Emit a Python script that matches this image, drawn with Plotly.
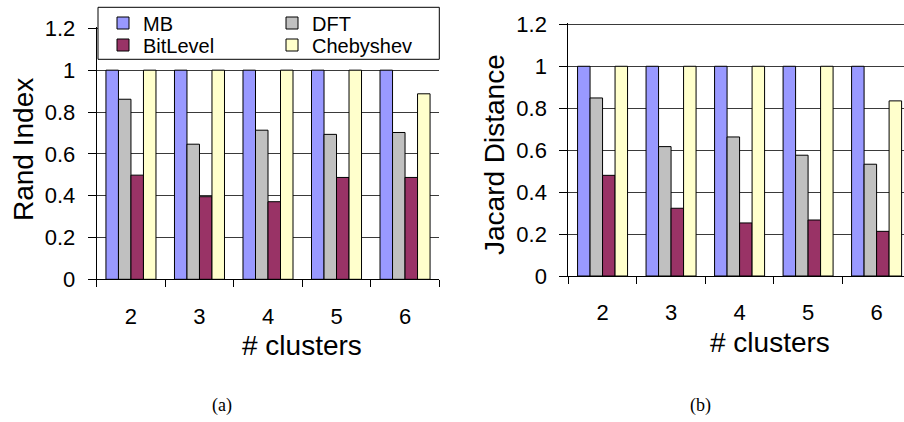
import plotly.graph_objects as go

categories = ["2", "3", "4", "5", "6"]
series_names = ["MB", "DFT", "BitLevel", "Chebyshev"]
colors = ["#9999FF", "#C0C0C0", "#993366", "#FFFFCC"]

rand_mb = [1.0, 1.0, 1.0, 1.0, 1.0]
rand_dft = [0.861, 0.646, 0.713, 0.693, 0.702]
rand_bit = [0.498, 0.395, 0.371, 0.487, 0.487]
rand_cheb = [1.0, 1.0, 1.0, 1.0, 0.887]

jac_mb = [1.0, 1.0, 1.0, 1.0, 1.0]
jac_dft = [0.849, 0.617, 0.663, 0.576, 0.533]
jac_bit = [0.480, 0.323, 0.253, 0.267, 0.213]
jac_cheb = [1.0, 1.0, 1.0, 1.0, 0.835]

yticks = [0, 0.2, 0.4, 0.6, 0.8, 1, 1.2]
ytick_text = ["0", "0.2", "0.4", "0.6", "0.8", "1", "1.2"]

W, H = 904, 422
FONT = "Liberation Sans, Arial, sans-serif"


def px(x):
    return x / W


def py(y):
    return 1 - y / H


fig = go.Figure()

left_series = [rand_mb, rand_dft, rand_bit, rand_cheb]
right_series = [jac_mb, jac_dft, jac_bit, jac_cheb]
legend_ids = ["legend", "legend", "legend2", "legend2"]

for name, vals, col, lg in zip(series_names, left_series, colors, legend_ids):
    fig.add_trace(go.Bar(x=categories, y=vals, name=name, xaxis="x", yaxis="y",
                         marker=dict(color=col, line=dict(color="black", width=1)),
                         legend=lg, showlegend=True))
for name, vals, col in zip(series_names, right_series, colors):
    fig.add_trace(go.Bar(x=categories, y=vals, name=name, xaxis="x2", yaxis="y2",
                         marker=dict(color=col, line=dict(color="black", width=1)),
                         showlegend=False))

common_x = dict(type="category", tickson="boundaries", ticks="outside", ticklen=7,
                tickcolor="black", showline=True, linecolor="black", linewidth=1,
                showgrid=False, tickfont=dict(family=FONT, size=22, color="black"),
                ticklabelstandoff=17, automargin=False)
common_y = dict(range=[0, 1.205], tickvals=yticks, ticktext=ytick_text, ticks="outside",
                ticklen=8, tickcolor="black", showline=True, linecolor="black",
                linewidth=1, showgrid=True, gridcolor="#3a3a3a", gridwidth=1,
                zeroline=False, tickfont=dict(family=FONT, size=22, color="black"),
                ticklabelstandoff=8, automargin=False)

ann_font = dict(family=FONT, size=28, color="black")
serif_font = dict(family="Liberation Serif, serif", size=18, color="black")


def ann(text, x, y, font, angle=0):
    return dict(text=text, x=px(x), y=py(y), xref="paper", yref="paper",
                xanchor="center", yanchor="middle", textangle=angle,
                showarrow=False, font=font)


fig.update_layout(
    width=W, height=H,
    margin=dict(l=0, r=0, t=0, b=0, pad=0, autoexpand=False),
    paper_bgcolor="white", plot_bgcolor="white",
    barmode="group", bargap=0.27, bargroupgap=0,
    xaxis=dict(domain=[px(96.7), px(439.3)], range=[-0.5, 4.5], anchor="y", **common_x),
    yaxis=dict(domain=[py(279.3), py(27.3)], anchor="x", **common_y),
    xaxis2=dict(domain=[px(568.3), 1.0], range=[-0.5, 4.4], anchor="y2", **common_x),
    yaxis2=dict(domain=[py(276), py(23.3)], anchor="x2", **common_y),
    legend=dict(orientation="h", x=px(103), y=py(23), xanchor="left", yanchor="middle",
                bgcolor="rgba(0,0,0,0)", borderwidth=0, entrywidth=124,
                entrywidthmode="pixels", font=dict(family=FONT, size=20, color="black")),
    legend2=dict(orientation="h", x=px(103), y=py(45), xanchor="left", yanchor="middle",
                 bgcolor="rgba(0,0,0,0)", borderwidth=0, entrywidth=124,
                 entrywidthmode="pixels", font=dict(family=FONT, size=20, color="black")),
    shapes=[dict(type="rect", xref="paper", yref="paper", x0=px(98), x1=px(439.3),
                 y0=py(59.3), y1=py(7.3), fillcolor="white",
                 line=dict(color="black", width=1), layer="above")],
    annotations=[
        ann("Rand Index", 23, 150, ann_font, -90),
        ann("Jacard Distance", 495, 155, ann_font, -90),
        ann("# clusters", 302, 345, ann_font),
        ann("# clusters", 770, 342, ann_font),
        ann("(a)", 222, 405, serif_font),
        ann("(b)", 700, 405, serif_font),
    ],
)

fig.write_html("out.html", config={"displayModeBar": False},
               post_script="document.body.style.margin='0';document.body.style.overflow='hidden';")
